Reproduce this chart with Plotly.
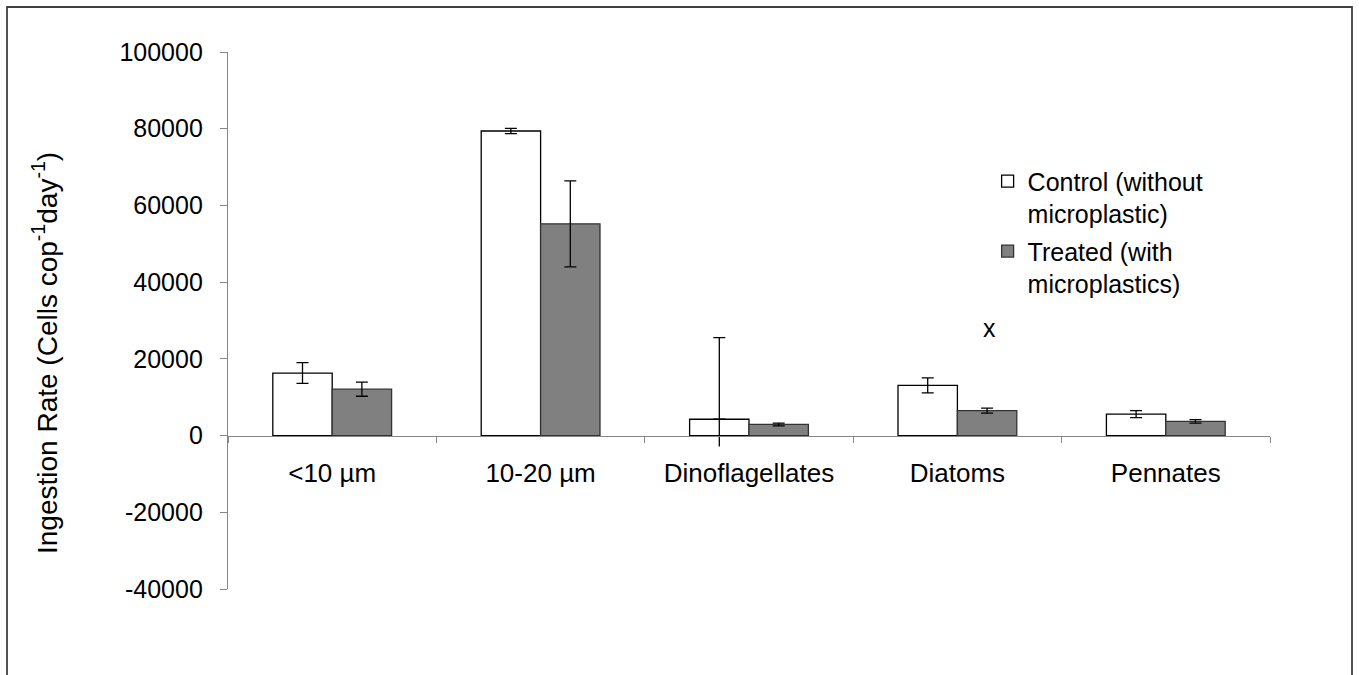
import plotly.graph_objects as go

# Prey categories and ingestion rates (cells per copepod per day)
categories = ["<10 µm", "10-20 µm", "Dinoflagellates", "Diatoms", "Pennates"]
control_mean = [16300, 79400, 4260, 13100, 5600]
control_err_plus = [2700, 700, 21300, 1950, 900]
control_err_minus = [2700, 700, 0, 1950, 900]
treated_mean = [12100, 55200, 2900, 6500, 3700]
treated_err = [1850, 11200, 350, 650, 450]

# Lower whisker of the dinoflagellate control series (drawn without a cap)
control_lower_only = [None, None, 4260, None, None]
control_lower_err = [0, 0, 7130, 0, 0]

y_tickvals = [-40000, -20000, 0, 20000, 40000, 60000, 80000, 100000]
y_ticktext = ["-40000", "-20000", "0", "20000", "40000", "60000", "80000", "100000"]

# Significance mark above the treated diatom bar
mark_category = "Diatoms"
mark_y = 28000

FONT = "Arial, Liberation Sans, sans-serif"
AXIS_GREY = "#868686"

fig = go.Figure()

fig.add_trace(go.Bar(
    x=categories, y=control_mean, name="Control (without<br>microplastic)",
    offsetgroup="control", legendgroup="control",
    marker=dict(color="white", line=dict(color="black", width=1.3)),
    error_y=dict(type="data", symmetric=False, array=control_err_plus,
                 arrayminus=control_err_minus, color="black", thickness=1.3, width=6),
))
fig.add_trace(go.Bar(
    x=categories, y=control_lower_only, showlegend=False, hoverinfo="skip",
    offsetgroup="control", legendgroup="control",
    marker=dict(color="rgba(0,0,0,0)", line=dict(width=0)),
    error_y=dict(type="data", symmetric=False, array=[0] * len(categories),
                 arrayminus=control_lower_err, color="black", thickness=1.3, width=0),
))
fig.add_trace(go.Bar(
    x=categories, y=treated_mean, name="Treated (with<br>microplastics)",
    offsetgroup="treated", legendgroup="treated",
    marker=dict(color="#808080", line=dict(color="#333333", width=1.3)),
    error_y=dict(type="data", array=treated_err, color="black", thickness=1.3, width=6),
))

fig.add_annotation(
    x=mark_category, y=mark_y, xref="x", yref="y", text="x", showarrow=False,
    xshift=32, font=dict(family=FONT, size=25, color="black"),
)

# Rotated y-axis title
fig.add_annotation(
    x=-0.1756, y=0.4395, xref="paper", yref="paper", textangle=-90,
    xanchor="center", yanchor="middle",
    text="Ingestion Rate (Cells cop<sup>-1</sup>day<sup>-1</sup>)",
    showarrow=False, font=dict(family=FONT, size=28, color="black"),
)

# Outer frame around the chart
fig.add_shape(
    type="rect", xref="paper", yref="paper",
    xsizemode="pixel", ysizemode="pixel", xanchor=0, yanchor=0,
    x0=-221, x1=1124, y0=-100, y1=582,
    line=dict(color="#404040", width=1.8), fillcolor="rgba(0,0,0,0)",
)

fig.update_layout(
    width=1359, height=675,
    margin=dict(l=228, r=89, t=52, b=86),
    paper_bgcolor="white", plot_bgcolor="white",
    barmode="group", bargap=0.43, bargroupgap=0,
    font=dict(family=FONT, size=25, color="black"),
    showlegend=True,
    legend=dict(
        x=0.729, y=0.802, xanchor="left", yanchor="top",
        bgcolor="rgba(0,0,0,0)", valign="top",
        font=dict(family=FONT, size=25, color="black"),
        itemwidth=30, tracegroupgap=2,
    ),
    xaxis=dict(
        type="category", range=[-0.5, 4.5],
        anchor="free", position=40000 / 140000,
        showline=True, linecolor=AXIS_GREY, linewidth=1.3,
        ticks="outside", tickson="boundaries", ticklen=6, tickcolor=AXIS_GREY,
        tickwidth=1.3, ticklabelstandoff=14, showgrid=False, zeroline=False,
        tickfont=dict(family=FONT, size=26, color="black"),
    ),
    yaxis=dict(
        range=[-40000, 100000], tickvals=y_tickvals, ticktext=y_ticktext,
        showline=True, linecolor=AXIS_GREY, linewidth=1.3,
        ticks="outside", ticklen=7, tickcolor=AXIS_GREY, tickwidth=1.3,
        ticklabelstandoff=12, showgrid=False, zeroline=False,
        tickfont=dict(family=FONT, size=25, color="black"),
    ),
)

fig.write_html("out.html")
